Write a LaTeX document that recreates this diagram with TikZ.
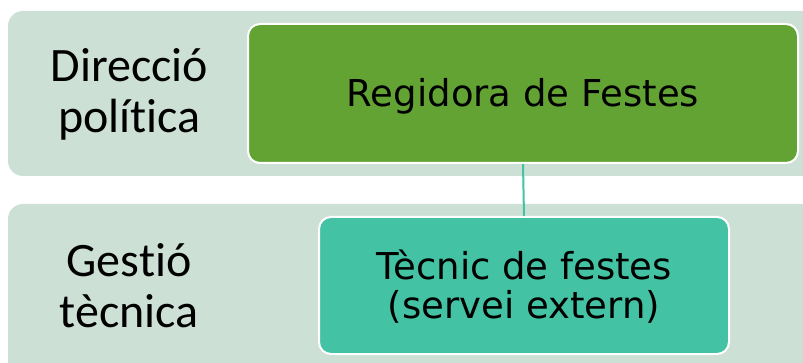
\documentclass[tikz,border=0pt]{standalone}
\usepackage{fontspec}
\setmainfont{Carlito}[RawFeature={-liga}]
\newfontfamily\boxfont{DejaVu Sans}
\definecolor{bandc}{RGB}{205,224,213}
\definecolor{greenc}{RGB}{98,163,51}
\definecolor{tealc}{RGB}{67,194,164}
\tikzset{
  band/.style={fill=bandc, draw=none, rounded corners=15pt},
  level/.style={font=\fontsize{48}{51}\selectfont, align=center, text=black, anchor=base, inner sep=0pt},
  orgbox/.style={draw=white, line width=2pt, rounded corners=12pt, font=\boxfont\fontsize{37}{39}\selectfont, align=center, text=black, inner sep=0pt, text depth=0pt},
  link/.style={draw=tealc, line width=2pt}
}
\begin{document}
\begin{tikzpicture}[x=1pt,y=1pt]
\useasboundingbox (0,0) rectangle (803,-363);
\clip (0,0) rectangle (803,-363);
\fill[white] (0,0) rectangle (803,-363);
\path[band] (8,-11) rectangle (830,-176);
\path[band] (8,-204) rectangle (830,-390);
\node[level] (lev1) at (129.5,-133) {Direcció\\polít\kern0pt ica};
\node[level] (lev2) at (129,-327) {Gest\kern0pt ió\\tècnica};
\node[orgbox, fill=greenc, minimum width=550pt, minimum height=139pt, text height=27pt] (reg) at (523,-93.5) {Regidora de Festes};
\node[orgbox, fill=tealc, minimum width=410pt, minimum height=137pt, text height=65pt] (tec) at (524,-285.5) {Tècnic de festes\\(servei extern)};
\draw[link] (reg.south) -- (tec.north);
\end{tikzpicture}
\end{document}
